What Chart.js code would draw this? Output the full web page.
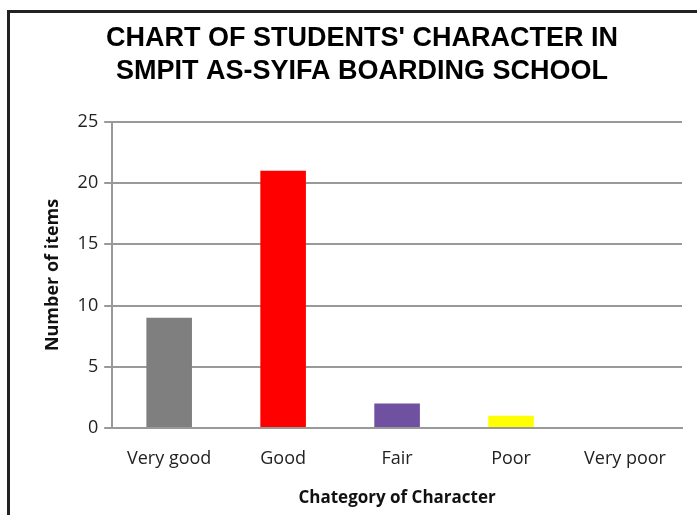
<!DOCTYPE html>
<html>
<head>
<meta charset="utf-8">
<script src="https://cdn.jsdelivr.net/npm/chart.js@4"></script>
<style>
  body { margin: 0; background: #fff; }
  #wrap { position: relative; width: 697px; height: 515px; }
  #frame {
    position: absolute; left: 7px; top: 10px; width: 720px; height: 540px;
    border-left: 3px solid #222; border-top: 3px solid #222;
  }
  #box { position: absolute; left: 0; top: 0; width: 697px; height: 515px; }
</style>
</head>
<body>
<div id="wrap">
  <div id="frame"></div>
  <div id="box"><canvas id="characterChart"></canvas></div>
</div>
<script>
// chart data
const categories = ["Very good", "Good", "Fair", "Poor", "Very poor"];
const itemCounts = [9, 21, 2, 1, 0];
const barColors = ["#7f7f7f", "#ff0000", "#7050a0", "#ffff00", "#4f81bd"];
const titleLines = ["CHART OF STUDENTS' CHARACTER IN", "SMPIT AS-SYIFA BOARDING SCHOOL"];

const characterChart = document.getElementById("characterChart");

new Chart(characterChart, {
  type: "bar",
  data: {
    labels: categories,
    datasets: [
      {
        data: itemCounts,
        backgroundColor: barColors,
        categoryPercentage: 1,
        barPercentage: 0.4,
      },
    ],
  },
  options: {
    responsive: true,
    maintainAspectRatio: false,
    animation: false,
    layout: {
      padding: { left: 42, right: 15, top: 0, bottom: 7 },
    },
    plugins: {
      legend: { display: false },
      tooltip: { enabled: false },
      title: {
        display: true,
        text: titleLines,
        color: "#000",
        font: { family: "'Liberation Sans', Arial, sans-serif", size: 27, weight: "bold", lineHeight: 1.22 },
        padding: { top: 22, bottom: 34 },
      },
    },
    scales: {
      x: {
        grid: { display: false },
        border: { display: true, color: "#999", width: 2 },
        ticks: {
          color: "#222",
          padding: 12,
          font: { family: "'Open Sans', sans-serif", size: 18 },
        },
        title: {
          display: true,
          text: "Chategory of Character",
          color: "#111",
          font: { family: "'Open Sans', sans-serif", size: 17, weight: "bold" },
          padding: { top: 6, bottom: 0 },
        },
      },
      y: {
        min: 0,
        max: 25,
        ticks: {
          stepSize: 5,
          color: "#222",
          padding: 6,
          font: { family: "'Open Sans', sans-serif", size: 18 },
        },
        grid: { color: "#999", lineWidth: 2, tickLength: 8 },
        border: { color: "#999", width: 2 },
        title: {
          display: true,
          text: "Number of items",
          color: "#111",
          font: { family: "'Open Sans', sans-serif", size: 18, weight: "bold" },
          padding: { top: 0, bottom: 8 },
        },
      },
    },
  },
});
</script>
</body>
</html>
